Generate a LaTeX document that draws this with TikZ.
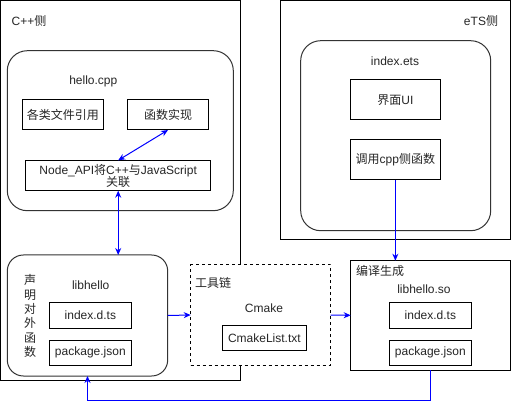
\documentclass[tikz,border=0pt]{standalone}
\usepackage{fontspec}
\setmainfont{Liberation Sans}
\newfontfamily\cjk{Noto Sans CJK SC}
\usetikzlibrary{arrows.meta}
\begin{document}
\begin{tikzpicture}[x=1pt,y=-1pt,
  font=\fontsize{12pt}{14pt}\selectfont, text=black!85,
  every node/.style={inner sep=0pt, outer sep=0pt},
  frame/.style={draw=black, line width=1pt, fill=white, anchor=center},
  rbox/.style={draw=black!80, line width=1pt, fill=white, anchor=center},
  sbox/.style={draw=black, line width=1pt, fill=white, anchor=center, align=center},
  lbl/.style={anchor=center, align=center},
  conn/.style={draw=blue, line width=1pt, -{Stealth[length=7pt,width=6pt]}},
  bconn/.style={draw=blue, line width=1pt, {Stealth[length=7pt,width=6pt]}-{Stealth[length=7pt,width=6pt]}}
]
\useasboundingbox (0,0) rectangle (512,409);
% outer frames
\node[frame, minimum width=239.5pt, minimum height=379.5pt] (cpp) at (120.25,190.25) {};
\node[frame, minimum width=230.7pt, minimum height=239pt] (ets) at (395.35,120) {};
\node[lbl] (cpplbl) at (29,21) {C++{\cjk 侧}};
\node[lbl] (etslbl) at (481,21) {eTS{\cjk 侧}};
% hello.cpp
\node[rbox, rounded corners=20pt, minimum width=226pt, minimum height=160pt] (hello) at (120.3,130.7) {};
\node[lbl] (hellolbl) at (93.3,81) {hello.cpp};
\node[sbox, minimum width=80.6pt, minimum height=30pt] (inc) at (63,115) {\cjk 各类文件引用};
\node[sbox, minimum width=80.6pt, minimum height=30pt] (fn) at (168,115) {\cjk 函数实现};
\node[sbox, minimum width=185pt, minimum height=30.4pt, font=\fontsize{12pt}{13pt}\selectfont] (napi) at (118.2,175.5) {Node\_API{\cjk 将}C++{\cjk 与}JavaScript\\[-1pt]{\cjk 关联}};
% index.ets
\node[rbox, rounded corners=20pt, minimum width=190pt, minimum height=190pt] (ietsbox) at (395.7,135.7) {};
\node[lbl] (ietslbl) at (395,61) {index.ets};
\node[sbox, minimum width=90.7pt, minimum height=40pt] (ui) at (395.35,100) {{\cjk 界面}UI};
\node[sbox, minimum width=90.7pt, minimum height=40pt] (call) at (395.35,160) {{\cjk 调用}cpp{\cjk 侧函数}};
% libhello
\node[rbox, rounded corners=16pt, minimum width=160.4pt, minimum height=121pt] (lib) at (87.5,315.5) {};
\node[lbl] (liblbl) at (90.7,285) {libhello};
\node[lbl, font=\cjk\fontsize{12pt}{14.3pt}\selectfont] (decl) at (30,316) {声\\明\\对\\外\\函\\数};
\node[sbox, minimum width=82.7pt, minimum height=26pt] (libidx) at (90.35,315.3) {index.d.ts};
\node[sbox, minimum width=82.7pt, minimum height=25.7pt] (libpkg) at (90.35,352.85) {package.json};
% toolchain
\node[frame, dashed, minimum width=140pt, minimum height=100pt] (tool) at (260.7,315) {};
\node[anchor=west] (toollbl) at (195,283) {\cjk 工具链};
\node[lbl] (cmakelbl) at (264,308) {Cmake};
\node[sbox, minimum width=83.3pt, minimum height=25.7pt] (cml) at (264.35,337.85) {CmakeList.txt};
% compile output
\node[frame, minimum width=160pt, minimum height=109.3pt] (gen) at (430.7,315.35) {};
\node[anchor=west] (genlbl) at (356,270.7) {\cjk 编译生成};
\node[lbl] (solbl) at (424,289) {libhello.so};
\node[sbox, minimum width=82.7pt, minimum height=26pt] (genidx) at (430.35,315.3) {index.d.ts};
\node[sbox, minimum width=82.7pt, minimum height=25.7pt] (genpkg) at (430.35,352.85) {package.json};
% connectors
\draw[bconn] (fn.south) -- (napi.north);
\draw[bconn] (napi.south) -- (napi.south |- lib.north);
\draw[conn] (lib.east) -- (tool.west);
\draw[conn] (tool.east) -- (gen.west);
\draw[conn] (call.south) -- (call.south |- gen.north);
\draw[conn] (gen.south) -- ++(0,30) -| (lib.south);
\end{tikzpicture}
\end{document}
